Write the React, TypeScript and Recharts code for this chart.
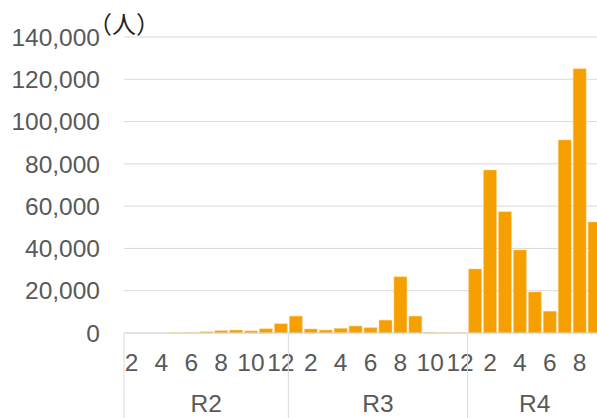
import { BarChart, Bar, XAxis, YAxis, CartesianGrid } from 'recharts';

// months shown per fiscal label (R2 starts in Feb)
const r2Months = [2, 3, 4, 5, 6, 7, 8, 9, 10, 11, 12];
const r3Months = [1, 2, 3, 4, 5, 6, 7, 8, 9, 10, 11, 12];
const r4Months = [1, 2, 3, 4, 5, 6, 7, 8, 9];

const r2Values = [0, 0, 0, 100, 200, 600, 1100, 1400, 1000, 2000, 4400];
const r3Values = [8000, 1900, 1400, 2200, 3300, 2500, 6100, 26600, 8000, 300, 100, 100];
const r4Values = [30300, 77100, 57400, 39300, 19400, 10300, 91300, 125000, 52500];

const groups = ['R2', 'R3', 'R4'];
const yTicks = [0, 20000, 40000, 60000, 80000, 100000, 120000, 140000];

const CHART_W = 603;
const CHART_H = 418;
const PLOT_LEFT = 124;
const PLOT_RIGHT_MARGIN = 1;
const PLOT_BOTTOM = 333;
const TEXT = '#595959';
const GRID = '#d9d9d9';
const FONT = '"Liberation Sans", Arial, sans-serif';
const FS = 24.5;

const data = [
  ...r2Months.map((m, i) => ({ month: m, group: groups[0], value: r2Values[i] })),
  ...r3Months.map((m, i) => ({ month: m, group: groups[1], value: r3Values[i] })),
  ...r4Months.map((m, i) => ({ month: m, group: groups[2], value: r4Values[i] })),
].map((d, i) => ({ ...d, idx: i }));

const step = (CHART_W - PLOT_RIGHT_MARGIN - PLOT_LEFT) / data.length;

function MonthTick(props: any) {
  const { x, payload } = props;
  const row = data[payload.index];
  if (!row || row.month % 2 !== 0) return null;
  return (
    <text x={x} y={PLOT_BOTTOM + 29} textAnchor="middle" dominantBaseline="central"
      fill={TEXT} fontSize={FS} fontFamily={FONT}>
      {row.month}
    </text>
  );
}

function GroupTick(props: any) {
  const { x, payload } = props;
  const i = payload.index;
  const row = data[i];
  if (!row) return null;
  const members = data.filter((d) => d.group === row.group);
  const first = members[0].idx === i;
  const mid = members[0].idx + (members.length - 1) / 2;
  return (
    <g>
      {first && (
        <line x1={x - step / 2} x2={x - step / 2} y1={PLOT_BOTTOM} y2={CHART_H}
          stroke={GRID} strokeWidth={1} />
      )}
      {first && (
        <text x={x + (mid - i) * step} y={PLOT_BOTTOM + 70} textAnchor="middle"
          dominantBaseline="central" fill={TEXT} fontSize={FS} fontFamily={FONT}>
          {row.group}
        </text>
      )}
    </g>
  );
}

export default function App() {
  return (
    <div style={{ position: 'fixed', left: 0, top: 0, width: CHART_W, height: CHART_H, background: '#fff' }}>
      <BarChart
        width={CHART_W}
        height={CHART_H}
        data={data}
        margin={{ top: 37, right: PLOT_RIGHT_MARGIN, bottom: 0, left: 0 }}
        barCategoryGap="7%"
      >
        <CartesianGrid vertical={false} stroke={GRID} />
        <XAxis
          dataKey="idx"
          interval={0}
          height={45}
          axisLine={{ stroke: GRID }}
          tickLine={false}
          tick={<MonthTick />}
        />
        <XAxis
          xAxisId="grp"
          dataKey="idx"
          interval={0}
          height={40}
          axisLine={false}
          tickLine={false}
          tick={<GroupTick />}
        />
        <YAxis
          width={PLOT_LEFT}
          domain={[0, 140000]}
          ticks={yTicks}
          axisLine={false}
          tickLine={false}
          tickMargin={18}
          tick={{ fontSize: FS, fill: TEXT, fontFamily: FONT }}
          tickFormatter={(v: number) => v.toLocaleString('en-US')}
        />
        <Bar dataKey="value" fill="#F5A000" stroke="#FBD38A" strokeWidth={0.5} isAnimationActive={false} />
      </BarChart>
      <div style={{ position: 'absolute', left: 88, top: 11, fontSize: 24, lineHeight: 1, color: '#222', fontFamily: '"Noto Sans CJK JP", sans-serif' }}>
        （人）
      </div>
    </div>
  );
}
